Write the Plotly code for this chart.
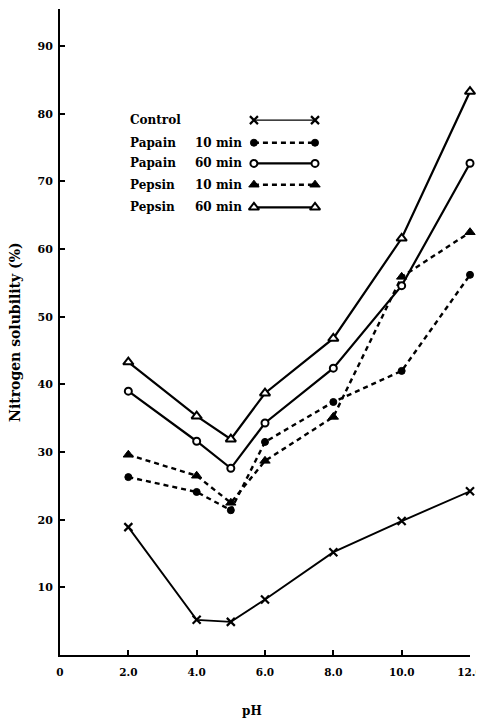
import plotly.graph_objects as go

# ---------------- data ----------------
ph = [2.0, 4.0, 5.0, 6.0, 8.0, 10.0, 12.0]
control = [18.9, 5.2, 4.9, 8.2, 15.2, 19.8, 24.2]
papain_10 = [26.3, 24.1, 21.4, 31.5, 37.4, 42.0, 56.2]
papain_60 = [39.0, 31.6, 27.6, 34.3, 42.4, 54.6, 72.7]
pepsin_10 = [29.6, 26.5, 22.5, 28.7, 35.2, 55.9, 62.5]
pepsin_60 = [43.3, 35.3, 31.9, 38.7, 46.8, 61.6, 83.3]

series_names = ["Control", "Papain 10 min", "Papain 60 min", "Pepsin 10 min", "Pepsin 60 min"]
legend_words = ["Control", "Papain", "Papain", "Pepsin", "Pepsin"]
legend_times = ["", "10 min", "60 min", "10 min", "60 min"]

x_tickvals = [0, 2, 4, 6, 8, 10, 12]
x_ticktext = ["0", "2.0", "4.0", "6.0", "8.0", "10.0", "12.0"]
y_tickvals = [10, 20, 30, 40, 50, 60, 70, 80, 90]
y_ticktext = ["10", "20", "30", "40", "50", "60", "70", "80", "90"]

x_title = "pH"
y_title = "Nitrogen solubility (%)"

# ---------------- styles ----------------
series_values = [control, papain_10, papain_60, pepsin_10, pepsin_60]
styles = [
    dict(symbol="x-thin", size=8, color="black", lw=2.2, dash="solid", width=1.9),
    dict(symbol="circle", size=7, color="black", lw=1, dash="5px,4px", width=2.4),
    dict(symbol="circle", size=7, color="white", lw=2, dash="solid", width=2.2),
    dict(symbol="triangle-up", size=9, color="black", lw=1, dash="5px,4px", width=2.4),
    dict(symbol="triangle-up", size=9, color="white", lw=2, dash="solid", width=2.2),
]

FONT = "DejaVu Serif"

fig = go.Figure()
for name, vals, st in zip(series_names, series_values, styles):
    fig.add_trace(go.Scatter(
        x=ph, y=vals, name=name, mode="lines+markers",
        line=dict(color="black", width=st["width"], dash=st["dash"]),
        marker=dict(symbol=st["symbol"], size=st["size"], color=st["color"],
                    line=dict(color="black", width=st["lw"])),
        cliponaxis=False, showlegend=False,
    ))

# ---------------- manual legend (symbols on the right, as in the original) ----------------
leg_x0, leg_x1 = 0.473, 0.622
leg_rows = [0.828, 0.793, 0.761, 0.728, 0.693]
leg_text_x, leg_time_x = 0.166, 0.324
for i, (st, row) in enumerate(zip(styles, leg_rows)):
    fig.add_trace(go.Scatter(
        x=[leg_x0, leg_x1], y=[row, row], mode="lines+markers",
        xaxis="x2", yaxis="y2",
        line=dict(color="black", width=st["width"] if i else 1.3, dash=st["dash"]),
        marker=dict(symbol=st["symbol"], size=st["size"], color=st["color"],
                    line=dict(color="black", width=st["lw"])),
        cliponaxis=False, showlegend=False, hoverinfo="skip",
    ))
    fig.add_annotation(x=leg_text_x, y=row, xref="paper", yref="paper", text=f"<b>{legend_words[i]}</b>",
                       showarrow=False, xanchor="left", yanchor="middle",
                       font=dict(family=FONT, size=12, color="black"))
    if legend_times[i]:
        fig.add_annotation(x=leg_time_x, y=row, xref="paper", yref="paper", text=f"<b>{legend_times[i]}</b>",
                           showarrow=False, xanchor="left", yanchor="middle",
                           font=dict(family=FONT, size=12, color="black"))

# axis titles
fig.add_annotation(x=-0.110, y=0.50, xref="paper", yref="paper", text=f"<b>{y_title}</b>",
                   textangle=-90, showarrow=False, xanchor="center", yanchor="middle",
                   font=dict(family=FONT, size=14, color="black"))
fig.add_annotation(x=0.468, y=-0.087, xref="paper", yref="paper", text=f"<b>{x_title}</b>",
                   showarrow=False, xanchor="center", yanchor="middle",
                   font=dict(family=FONT, size=12, color="black"))

axis_common = dict(showgrid=False, zeroline=False, showline=True, linecolor="black",
                   linewidth=2, ticks="inside", ticklen=5, tickwidth=1.5, tickcolor="black")

# page body has an 8px margin, so the figure is sized to the visible area
fig.update_layout(
    width=476, height=713,
    margin=dict(l=52, r=14, t=1, b=66),
    paper_bgcolor="white", plot_bgcolor="white",
    font=dict(family=FONT, color="black"),
    xaxis=dict(range=[0, 12], tickvals=x_tickvals, ticktext=[f"<b>{t}</b>" for t in x_ticktext],
               ticklabelstandoff=6, tickfont=dict(family=FONT, size=10.5, color="black"), **axis_common),
    yaxis=dict(range=[0, 95.5], tickvals=y_tickvals, ticktext=[f"<b>{t}</b>" for t in y_ticktext],
               ticklabelstandoff=3, tickfont=dict(family=FONT, size=11, color="black"), **axis_common),
    xaxis2=dict(range=[0, 1], overlaying="x", visible=False, domain=[0, 1]),
    yaxis2=dict(range=[0, 1], overlaying="y", visible=False),
    showlegend=False,
)

fig.write_html("out.html", config={"displayModeBar": False})
